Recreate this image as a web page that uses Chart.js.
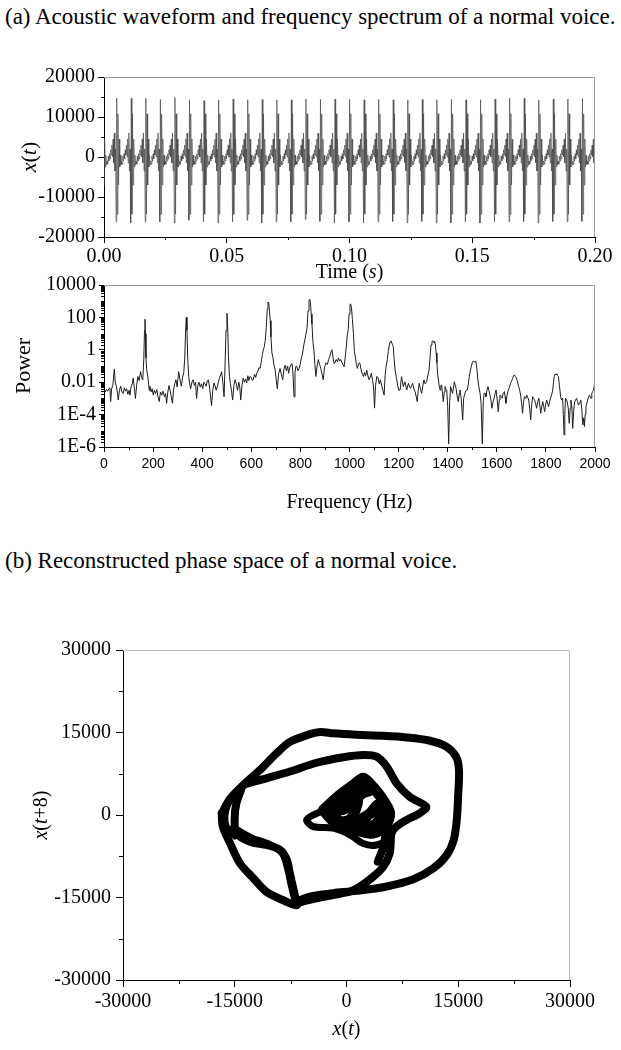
<!DOCTYPE html>
<html>
<head>
<meta charset="utf-8">
<script src="https://cdn.jsdelivr.net/npm/chart.js@4.4.0/dist/chart.umd.min.js"></script>
<style>
  body { margin: 0; background: #fff; }
  #page { position: relative; width: 621px; height: 1050px; overflow: hidden; }
  .cap { position: absolute; left: 5px; font: 23px "Liberation Serif", "Times New Roman", serif; color: #000; line-height: 26px; white-space: nowrap; }
  canvas { position: absolute; left: 0; }
</style>
</head>
<body>
<div id="page">
  <div class="cap" style="top:4px">(a) Acoustic waveform and frequency spectrum of a normal voice.</div>
  <canvas id="waveChart" width="621" height="250" style="top:40px"></canvas>
  <canvas id="specChart" width="621" height="260" style="top:270px"></canvas>
  <div class="cap" style="top:548px">(b) Reconstructed phase space of a normal voice.</div>
  <canvas id="phaseChart" width="621" height="450" style="top:600px"></canvas>
</div>
<script>
// ---- waveform (one pitch period, read at ~0.247 ms per sample) ----
const sampleStep = 0.000247;
const cycleShape = [-16300, 14800, -14300, 10800, -7000, 4500, -2500, 500, -2000, -1000, -1800, 200,
  -1000, 800, -500, 1800, 500, 3000, 0, 4500, -1500, 6000, -3500, 2000];
// big trough / big peak of each of the 33 periods, left to right
const cycleTroughs = [-16200, -16500, -16200, -16200, -16500, -15800, -16200, -16500, -16200, -15800, -16500,
  -16200, -16200, -15600, -16100, -16500, -16200, -16500, -16200, -16100, -16500, -16100,
  -16500, -16500, -16200, -16500, -16200, -16200, -16100, -16500, -16100, -16200, -16100];
const cyclePeaks = [14700, 14700, 14700, 14400, 14900, 14300, 14100, 14300, 14500, 14300, 14400,
  14300, 14300, 14500, 14400, 14500, 14400, 14300, 14400, 14300, 14300, 14400,
  14300, 14400, 14300, 14300, 14500, 14700, 14700, 14300, 14500, 14500, 14600];

// ---- spectrum: [frequency Hz, log10 power] ----
const spectrumPoints = [[0,-2.5],[5,-2.6],[10,-2.45],[15,-2.55],[20,-2.4],[24,-2.35],[27,-3.2],[31,-2.4],[36,-2.2],[42,-1.2],[46,-2.0],[51,-2.3],[55,-2.7],[58,-3.1],[63,-2.5],[68,-2.25],[73,-2.6],[78,-2.7],[83,-2.35],[88,-2.55],[92,-2.4],[97,-2.75],[102,-2.5],[106,-2.8],[110,-2.3],[115,-2.1],[119,-1.75],[124,-2.4],[128,-3.0],[133,-2.2],[138,-1.65],[143,-1.9],[149,-1.35],[153,-1.7],[158,-1.85],[162,-0.6],[165,1.2],[167,1.88],[169,1.0],[171,-0.5],[174,-1.25],[178,-1.6],[181,-2.0],[184,-2.5],[187,-2.25],[192,-2.6],[196,-2.4],[201,-2.8],[205,-2.5],[210,-2.7],[215,-2.45],[220,-2.9],[225,-3.2],[230,-2.6],[235,-2.8],[241,-2.55],[246,-2.9],[251,-2.7],[255,-3.3],[260,-2.6],[265,-2.2],[269,-2.5],[274,-2.9],[279,-3.3],[283,-2.5],[288,-2.1],[293,-1.85],[298,-2.3],[304,-1.35],[309,-1.8],[315,-2.25],[320,-1.7],[325,-1.4],[329,-0.5],[332,1.0],[335,2.0],[338,1.2],[341,-0.5],[345,-1.65],[349,-2.1],[353,-2.4],[358,-2.0],[363,-1.85],[368,-2.2],[373,-2.0],[377,-3.0],[382,-2.2],[387,-2.0],[392,-2.3],[397,-2.1],[402,-2.4],[407,-2.0],[411,-2.1],[416,-2.25],[421,-1.9],[425,-1.85],[430,-2.3],[434,-2.9],[438,-3.45],[443,-2.5],[448,-2.05],[452,-2.2],[457,-2.5],[462,-2.25],[466,-2.0],[471,-1.7],[475,-1.55],[479,-1.35],[484,-2.0],[489,-2.9],[493,-1.0],[497,1.2],[501,2.25],[504,1.3],[507,-0.4],[511,-1.65],[515,-2.1],[519,-2.5],[524,-3.1],[529,-2.2],[534,-1.85],[539,-2.1],[544,-2.5],[549,-2.0],[553,-2.3],[557,-3.1],[562,-2.2],[567,-1.75],[572,-2.0],[577,-1.8],[581,-2.05],[586,-1.6],[590,-1.9],[595,-1.65],[600,-1.7],[604,-1.9],[608,-1.85],[613,-1.5],[618,-1.7],[622,-1.45],[627,-1.3],[631,-1.1],[636,-1.15],[640,-0.8],[645,-0.3],[649,0.0],[653,0.2],[657,0.6],[661,1.4],[665,2.5],[668,2.95],[671,2.9],[674,2.4],[677,1.8],[680,0.8],[684,-0.2],[688,-0.45],[692,-0.9],[697,-1.25],[701,-1.8],[706,-2.4],[711,-1.5],[717,-1.15],[722,-1.5],[728,-1.85],[733,-1.2],[738,-0.95],[743,-1.3],[748,-1.0],[752,-1.45],[757,-1.1],[762,-0.9],[766,-0.85],[770,-1.5],[774,-2.9],[778,-1.4],[782,-1.0],[786,-1.05],[790,-1.3],[795,-1.15],[799,-0.9],[804,-0.5],[809,-0.2],[814,0.3],[818,0.6],[823,1.0],[827,1.3],[831,2.4],[835,3.05],[838,3.12],[841,2.9],[844,2.2],[847,1.6],[851,0.5],[855,0.0],[859,-0.9],[863,-1.65],[868,-1.0],[873,-0.6],[878,-0.9],[883,-1.15],[888,-1.5],[893,-1.85],[898,-1.1],[904,-0.8],[910,-0.9],[915,-0.6],[920,-0.4],[925,-0.1],[929,0.0],[933,-0.5],[937,-0.85],[941,-0.8],[946,-0.6],[951,-0.75],[955,-0.5],[960,-0.7],[964,-0.6],[968,-0.75],[973,-0.9],[978,-1.05],[983,-0.4],[987,0.2],[991,0.9],[995,1.25],[998,2.2],[1002,2.8],[1005,2.83],[1008,2.6],[1012,1.85],[1016,1.0],[1020,-0.1],[1024,-0.45],[1028,-0.9],[1032,-1.15],[1037,-0.85],[1042,-0.8],[1047,-1.2],[1052,-1.5],[1057,-1.65],[1061,-1.4],[1066,-1.6],[1070,-1.25],[1075,-1.6],[1080,-1.85],[1084,-1.7],[1089,-1.45],[1094,-1.9],[1098,-2.3],[1102,-3.6],[1106,-2.2],[1111,-1.65],[1116,-1.7],[1121,-2.1],[1126,-1.85],[1131,-2.2],[1136,-2.5],[1141,-2.8],[1145,-1.6],[1149,-1.05],[1154,-0.6],[1158,-0.1],[1162,0.3],[1166,0.5],[1170,0.54],[1174,0.35],[1178,0.2],[1182,-0.6],[1186,-1.3],[1191,-1.7],[1196,-2.2],[1201,-2.5],[1206,-2.48],[1212,-1.66],[1219,-2.27],[1226,-1.97],[1233,-2.48],[1240,-2.07],[1245,-2.3],[1249,-2.38],[1253,-2.2],[1257,-2.07],[1262,-2.4],[1267,-2.58],[1272,-2.9],[1276,-3.2],[1280,-2.5],[1284,-2.07],[1289,-2.4],[1294,-2.69],[1299,-2.2],[1303,-1.86],[1308,-2.1],[1314,-1.97],[1319,-1.6],[1324,-1.25],[1328,-0.5],[1332,0.3],[1336,0.5],[1339,0.56],[1343,0.45],[1346,0.52],[1350,0.3],[1353,-0.2],[1356,-0.8],[1359,-1.5],[1362,-1.86],[1366,-2.3],[1369,-2.48],[1372,-2.2],[1375,-2.17],[1379,-2.7],[1382,-3.2],[1386,-2.6],[1389,-2.27],[1393,-2.5],[1396,-2.48],[1400,-3.5],[1404,-5.8],[1408,-3.2],[1412,-2.27],[1416,-2.5],[1420,-2.69],[1424,-2.3],[1427,-1.97],[1431,-2.2],[1434,-2.38],[1438,-2.8],[1443,-3.2],[1447,-2.7],[1450,-2.48],[1455,-3.0],[1461,-4.33],[1465,-3.0],[1470,-2.69],[1475,-2.5],[1480,-2.48],[1484,-2.1],[1488,-1.66],[1492,-1.3],[1496,-1.04],[1500,-0.8],[1504,-0.69],[1508,-0.75],[1512,-0.7],[1515,-0.73],[1519,-1.2],[1523,-1.86],[1527,-2.3],[1532,-2.69],[1536,-3.3],[1541,-5.8],[1545,-3.2],[1548,-2.69],[1552,-2.7],[1556,-2.89],[1560,-2.5],[1564,-2.27],[1568,-2.5],[1572,-2.79],[1576,-3.1],[1580,-3.61],[1585,-3.2],[1589,-2.99],[1593,-2.7],[1597,-2.48],[1601,-3.0],[1606,-3.82],[1610,-3.1],[1613,-2.79],[1618,-2.9],[1622,-2.99],[1626,-2.7],[1631,-2.58],[1634,-2.9],[1637,-3.3],[1642,-2.8],[1647,-2.48],[1652,-2.3],[1656,-2.07],[1661,-1.9],[1665,-1.76],[1668,-1.6],[1671,-1.55],[1675,-1.65],[1679,-1.7],[1683,-1.9],[1689,-2.27],[1693,-2.5],[1697,-2.79],[1701,-3.3],[1705,-3.92],[1709,-3.2],[1713,-2.89],[1718,-3.0],[1722,-2.79],[1726,-2.95],[1730,-3.1],[1734,-3.6],[1738,-4.33],[1742,-3.4],[1746,-2.89],[1750,-3.0],[1754,-3.1],[1758,-3.3],[1762,-3.61],[1767,-3.2],[1771,-2.99],[1775,-3.4],[1779,-3.92],[1783,-3.5],[1787,-3.2],[1791,-3.5],[1795,-3.82],[1799,-3.4],[1803,-3.1],[1807,-3.3],[1811,-3.51],[1815,-3.2],[1819,-2.99],[1823,-2.8],[1828,-2.48],[1831,-2.0],[1834,-1.66],[1838,-1.5],[1841,-1.55],[1845,-1.48],[1848,-1.6],[1851,-1.66],[1855,-2.2],[1860,-2.89],[1864,-3.1],[1868,-2.99],[1871,-4.0],[1874,-5.26],[1877,-4.0],[1880,-2.99],[1884,-3.1],[1887,-3.2],[1891,-3.6],[1895,-4.54],[1899,-3.6],[1902,-3.1],[1906,-3.6],[1909,-4.85],[1913,-3.8],[1917,-3.2],[1921,-3.1],[1925,-2.99],[1929,-3.2],[1933,-3.41],[1938,-3.3],[1942,-3.1],[1946,-3.6],[1950,-4.64],[1954,-4.2],[1957,-4.74],[1960,-4.0],[1963,-3.51],[1967,-3.3],[1970,-3.1],[1974,-2.9],[1977,-2.79],[1981,-2.9],[1984,-2.99],[1987,-2.7],[1990,-2.58],[1994,-2.5],[1997,-2.2],[2000,-1.86]];
const powerTicks = [1e-6, 1e-4, 1e-2, 1, 100, 10000];
const powerTickLabels = ["1E-6", "1E-4", "0.01", "1", "100", "10000"];

// ---- phase space traces: [x(t), x(t+8)] ----
const outerLoop = [[-16750,300],[-15600,3000],[-13850,5450],[-11600,8200],[-9400,11200],[-7600,13300],[-4900,14700],[-3500,15100],[-1770,14850],[1360,14600],[4940,14400],[8070,14100],[11200,13500],[13450,12400],[14700,10600],[15100,8200],[15000,3900],[14800,-900],[14400,-4500],[13450,-7300],[11660,-9700],[8970,-11700],[5400,-13000],[1360,-13800],[-1770,-14200],[-4450,-14700],[-6240,-15500],[-6700,-16400],[-8480,-15500],[-10720,-14000],[-12500,-11500],[-14300,-8800],[-15600,-5200],[-16600,-2100],[-16750,300]];
const middleLoop = [[-6700,-16000],[-7100,-13600],[-7600,-10600],[-8000,-8200],[-8900,-6360],[-10700,-5450],[-12950,-4850],[-14800,-3300],[-15000,-300],[-14800,2000],[-14200,4400],[-13850,5450],[-10720,6670],[-7600,7900],[-4000,9500],[-420,10500],[2250,10900],[4050,10600],[5400,8800],[6700,5800],[8500,3300],[10700,1500],[9800,300],[8070,-900],[6700,-2100],[6050,-3300],[5800,-6970],[4940,-9400],[3600,-11200],[1800,-13000],[470,-13900],[-2000,-14600],[-4500,-15300],[-6700,-16000]];
const lensStrand = [[-15200,-2300],[-12700,-4200],[-10400,-5300],[-8600,-7000],[-7900,-9800],[-7400,-12900],[-6900,-15600]];
const eyeStrand = [[-14000,4800],[-15600,2400],[-16200,-300],[-15900,-2600],[-15000,-4000]];
const innerPath = [[6050,-3300],[5800,-4200],[4050,-5450],[2250,-5200],[470,-3600],[-1770,-2400],[-4450,-2100],[-5350,-900],[-4000,300],[-2500,900],[-1000,1000]];
const coreLoopA = [[-3100,900],[-1000,3500],[1000,5500],[2250,6700],[3600,5000],[5000,2500],[5800,300],[5200,-2000],[3600,-3300],[1500,-2800],[-420,-2100],[-2000,-800],[-3100,900]];
const coreLoopB = [[-1800,200],[-300,2500],[1000,4200],[1500,3000],[1200,1000],[500,-800],[-800,-1200],[-1800,200]];
const coreLoopC = [[1500,-1200],[3200,300],[4200,1800],[4500,-500],[3500,-2000],[1500,-1200]];
const coreLoopD = [[-1500,1500],[500,4800],[1800,5600],[3200,4600],[2200,4000],[800,2500],[-500,1000],[-1500,1500]];
const coreStrand = [[4500,1000],[5200,-2000],[5000,-5500],[4200,-8500]];

// axis decoration
const waveMinorX = [0.025, 0.075, 0.125, 0.175];
const waveMinorY = [-15000, -5000, 5000, 15000];
const specMinorX = [100, 300, 500, 700, 900, 1100, 1300, 1500, 1700, 1900];
const phaseMinor = [-22500, -7500, 7500, 22500];

const SERIF = '"Liberation Serif", "Times New Roman", serif';
const SANS = '"Liberation Sans", Arial, sans-serif';
Chart.defaults.color = "#000";

function buildWave() {
  const pts = [];
  for (let k = 0; k * sampleStep <= 0.2 + 1e-9; k++) {
    const pos = k + 4;
    const idx = pos % cycleShape.length;
    const cyc = Math.floor(pos / cycleShape.length) - 1;
    let v = cycleShape[idx];
    if (idx === 0 && cycleTroughs[cyc] !== undefined) v = cycleTroughs[cyc];
    if (idx === 1 && cyclePeaks[cyc] !== undefined) v = cyclePeaks[cyc];
    pts.push({ x: k * sampleStep, y: v });
  }
  return pts;
}

function drawRich(ctx, parts, x, y, size, rotate) {
  ctx.save();
  ctx.translate(x, y);
  if (rotate) ctx.rotate(-Math.PI / 2);
  ctx.textBaseline = "middle";
  ctx.fillStyle = "#000";
  let total = 0;
  const widths = parts.map(([t, it]) => {
    ctx.font = (it ? "italic " : "") + size + "px " + SERIF;
    const w = ctx.measureText(t).width;
    total += w;
    return w;
  });
  let cx = -total / 2;
  parts.forEach(([t, it], i) => {
    ctx.font = (it ? "italic " : "") + size + "px " + SERIF;
    ctx.fillText(t, cx, 0);
    cx += widths[i];
  });
  ctx.restore();
}

const axisExtras = {
  id: "axisExtras",
  afterDraw(chart, args, opts) {
    const { ctx, chartArea: a, scales } = chart;
    ctx.save();
    ctx.lineWidth = 1;
    ctx.strokeStyle = opts.frameColor;
    ctx.beginPath();
    ctx.moveTo(a.left, a.top + 0.5);
    ctx.lineTo(a.right - 0.5, a.top + 0.5);
    ctx.lineTo(a.right - 0.5, a.bottom);
    ctx.stroke();

    ctx.strokeStyle = "#000";
    ctx.beginPath();
    (opts.xMinor || []).forEach(v => {
      const px = Math.round(scales.x.getPixelForValue(v)) + 0.5;
      ctx.moveTo(px, a.bottom);
      ctx.lineTo(px, a.bottom + opts.minorLen);
    });
    (opts.yMinor || []).forEach(v => {
      const py = Math.round(scales.y.getPixelForValue(v)) + 0.5;
      ctx.moveTo(a.left, py);
      ctx.lineTo(a.left - opts.minorLen, py);
    });
    ctx.stroke();

    if (opts.xTitle) drawRich(ctx, opts.xTitle.parts, (a.left + a.right) / 2, a.bottom + opts.xTitle.gap, opts.xTitle.size, false);
    if (opts.yTitle) drawRich(ctx, opts.yTitle.parts, a.left - opts.yTitle.gap, (a.top + a.bottom) / 2, opts.yTitle.size, true);
    ctx.restore();
  }
};

function baseAxis(fontFamily, fontSize, tickLen, pad) {
  return {
    grid: { display: true, drawOnChartArea: false, drawTicks: true, tickLength: tickLen, color: "#000", tickColor: "#000" },
    border: { display: true, color: "#000", width: 1 },
    ticks: { font: { family: fontFamily, size: fontSize }, color: "#000", padding: pad, maxRotation: 0, autoSkip: false }
  };
}

function createWaveChart() {
  const xAxis = baseAxis(SERIF, 20, 6, 2);
  Object.assign(xAxis, { type: "linear", min: 0, max: 0.2, afterFit: s => { s.height = 53; } });
  xAxis.ticks.stepSize = 0.05;
  xAxis.ticks.callback = v => Number(v).toFixed(2);
  const yAxis = baseAxis(SERIF, 20, 6, 3);
  Object.assign(yAxis, { min: -20000, max: 20000, afterFit: s => { s.width = 104; } });
  yAxis.ticks.stepSize = 10000;
  yAxis.ticks.callback = v => String(v);

  new Chart(document.getElementById("waveChart"), {
    type: "line",
    data: { datasets: [{ data: buildWave(), borderColor: "#4a4a4a", borderWidth: 0.7, pointRadius: 0, tension: 0 }] },
    options: {
      responsive: false, animation: false, devicePixelRatio: 1,
      layout: { padding: { top: 37, right: 26, left: 0, bottom: 0 } },
      scales: { x: xAxis, y: yAxis },
      plugins: {
        legend: { display: false }, tooltip: { enabled: false },
        axisExtras: {
          frameColor: "#9a9a9a", minorLen: 3, xMinor: waveMinorX, yMinor: waveMinorY,
          xTitle: { parts: [["Time (", false], ["s", true], [")", false]], gap: 36, size: 20 },
          yTitle: { parts: [["x", true], ["(", false], ["t", true], [")", false]], gap: 74, size: 22 }
        }
      }
    },
    plugins: [axisExtras]
  });
}

function createSpectrumChart() {
  const xAxis = baseAxis(SANS, 14, 5, 4);
  Object.assign(xAxis, { type: "linear", min: 0, max: 2000, afterFit: s => { s.height = 83; } });
  xAxis.ticks.stepSize = 200;
  xAxis.ticks.callback = v => String(v);
  const yAxis = baseAxis(SERIF, 20, 5, 3);
  Object.assign(yAxis, {
    type: "logarithmic", min: 1e-6, max: 1e4,
    afterFit: s => { s.width = 104; },
    afterBuildTicks: s => { s.ticks = powerTicks.map(v => ({ value: v })); }
  });
  yAxis.ticks.callback = (v, i) => powerTickLabels[i];

  const logMinor = [];
  for (let e = -6; e < 4; e++) {
    for (let m = 1; m < 10; m++) {
      const v = m * Math.pow(10, e);
      if (!powerTicks.includes(v)) logMinor.push(v);
    }
  }

  new Chart(document.getElementById("specChart"), {
    type: "line",
    data: {
      datasets: [{
        data: spectrumPoints.map(([f, lg]) => ({ x: f, y: Math.pow(10, lg) })),
        borderColor: "#1c1c1c", borderWidth: 1, pointRadius: 0, tension: 0
      }]
    },
    options: {
      responsive: false, animation: false, devicePixelRatio: 1,
      layout: { padding: { top: 15, right: 26, left: 0, bottom: 0 } },
      scales: { x: xAxis, y: yAxis },
      plugins: {
        legend: { display: false }, tooltip: { enabled: false },
        axisExtras: {
          frameColor: "#9a9a9a", minorLen: 3, xMinor: specMinorX, yMinor: logMinor,
          xTitle: { parts: [["Frequency (Hz)", false]], gap: 56, size: 20 },
          yTitle: { parts: [["Power", false]], gap: 80, size: 22 }
        }
      }
    },
    plugins: [axisExtras]
  });
}

function createPhaseChart() {
  const xAxis = baseAxis(SERIF, 20, 7, 3);
  Object.assign(xAxis, { type: "linear", min: -30000, max: 30000, afterFit: s => { s.height = 70; } });
  xAxis.ticks.stepSize = 15000;
  xAxis.ticks.callback = v => String(v);
  const yAxis = baseAxis(SERIF, 20, 7, 5);
  Object.assign(yAxis, { type: "linear", min: -30000, max: 30000, afterFit: s => { s.width = 123; } });
  yAxis.ticks.stepSize = 15000;
  yAxis.ticks.callback = v => String(v);

  const traces = [
    [outerLoop, 8], [middleLoop, 8], [lensStrand, 7], [eyeStrand, 5], [innerPath, 7],
    [coreLoopA, 11], [coreLoopB, 11], [coreLoopC, 11], [coreLoopD, 11], [coreStrand, 8]
  ];
  new Chart(document.getElementById("phaseChart"), {
    type: "scatter",
    data: {
      datasets: traces.map(([tr, w]) => ({
        data: tr.map(([x, y]) => ({ x, y })),
        showLine: true, borderColor: "#000", borderWidth: w, pointRadius: 0,
        tension: 0.3, borderCapStyle: "round", borderJoinStyle: "round"
      }))
    },
    options: {
      responsive: false, animation: false, devicePixelRatio: 1,
      layout: { padding: { top: 50, right: 51, left: 0, bottom: 0 } },
      scales: { x: xAxis, y: yAxis },
      plugins: {
        legend: { display: false }, tooltip: { enabled: false },
        axisExtras: {
          frameColor: "#bdbdbd", minorLen: 4, xMinor: phaseMinor, yMinor: phaseMinor,
          xTitle: { parts: [["x", true], ["(", false], ["t", true], [")", false]], gap: 50, size: 20 },
          yTitle: { parts: [["x", true], ["(", false], ["t", true], ["+8)", false]], gap: 81, size: 20 }
        }
      }
    },
    plugins: [axisExtras]
  });
}

createWaveChart();
createSpectrumChart();
createPhaseChart();
</script>
</body>
</html>
